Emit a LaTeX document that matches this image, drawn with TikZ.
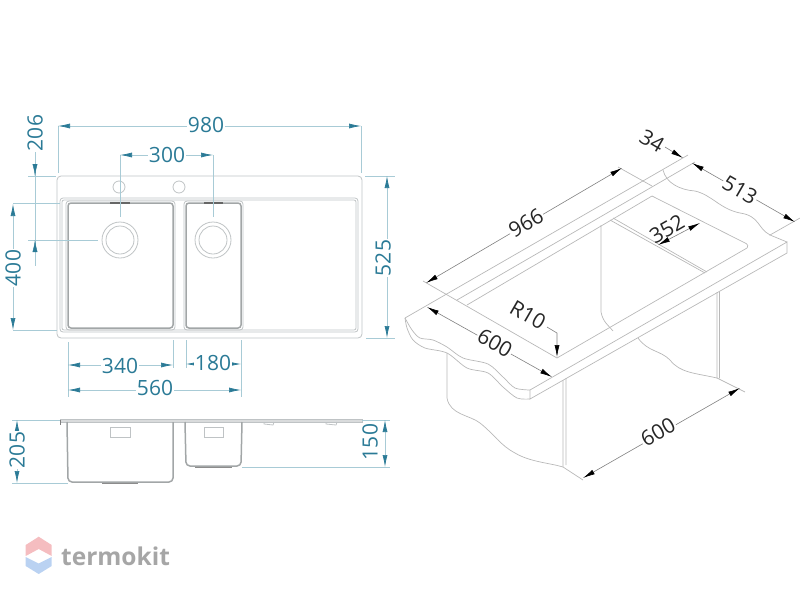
\documentclass[tikz,border=0pt]{standalone}
\usepackage{fontspec}
\setmainfont{Open Sans}
\usetikzlibrary{arrows.meta}
\definecolor{dimtext}{HTML}{2A7A96}
\definecolor{dimline}{HTML}{A8CBD6}
\definecolor{planline}{HTML}{BFC3C5}
\definecolor{isoline}{HTML}{B8B8B8}
\definecolor{logored}{HTML}{F5BDC0}
\definecolor{logoblue}{HTML}{BAD2F2}
\begin{document}
\begin{tikzpicture}[x=1pt,y=-1pt]
\tikzset{plan/.style={draw=planline,line width=0.8pt},
	planbold/.style={draw=planline!85!black,line width=1.5pt},
	iso/.style={draw=isoline,line width=0.7pt},
	dim/.style={draw=dimline,line width=0.7pt,{Latex[length=12pt,width=5pt,color=dimtext]}-{Latex[length=12pt,width=5pt,color=dimtext]}},
	ext/.style={draw=dimline,line width=0.6pt},
	label/.style={text=dimtext,font=\fontsize{21}{21}\selectfont,fill=white,inner sep=1pt},
	isodim/.style={draw=black!50,line width=0.6pt,{Latex[length=12pt,width=5pt,color=black]}-{Latex[length=12pt,width=5pt,color=black]}},
	isolabel/.style={text=black!85,font=\fontsize{21}{21}\selectfont,fill=white,inner sep=1pt}}
\useasboundingbox (0,0) rectangle (800,600);
\foreach \n/\x/\y in {wa/58/126,wb/361/126,ta/120/155,tb/213/155,ha/35/176,hb/35/240,
	fa/13/204,fb/13/330,da/387/176,db/387/338,ka/68/365,kb/173/365,ra/186/364,rb/241/364,
	na/68/390,nb/241/390,sa/17/420,sb/17/483,oa/385/420,ob/385/467}
	\coordinate (\n) at (\x,\y);
\foreach \n/\x/\y in {ia/426/283,ib/622/168,ja/427/307,jb/552/377,ma/583/478,mb/740/388,
	ca/683/158,cb/665/147,la/692/163,lb/795/222,qa/658/245,qb/700/223,va/557/357,vb/557/333,vc/547/327}
	\coordinate (\n) at (\x,\y);
% top view
\draw[plan,rounded corners=4pt] (57,176) rectangle (362,338);
\draw[plan,rounded corners=3pt] (60,198) rectangle (358,332);
\draw[plan,rounded corners=2pt] (62,200) rectangle (356,330);
\draw[planbold,rounded corners=3pt] (68,203) rectangle (173,328);
\draw[plan,rounded corners=3pt] (66,201) rectangle (175,330);
\draw[planbold,rounded corners=3pt] (186,203) rectangle (241,328);
\draw[plan,rounded corners=3pt] (184,201) rectangle (243,330);
\draw[draw=black!60,line width=1.2pt] (110,203) -- (130,203) (204,203) -- (223,203);
\foreach \cx in {120,213} {
	\draw[plan] (\cx,240) circle (18) (\cx,240) circle (14);
}
\draw[plan] (119,187) circle (6) (179,187) circle (6);
% side view
\draw[plan,fill=planline!60] (60,419.5) -- (362,419.5) -- (362,422) -- (60,422) -- cycle;
\draw[draw=black!50,line width=0.7pt] (60,420) -- (60,425);
\draw[planbold,rounded corners=4pt] (67,422) -- (68,482) -- (173,482) -- (173,422);
\draw[planbold,rounded corners=4pt] (185,422) -- (186,466) -- (241,466) -- (242,422);
\draw[draw=black!45,line width=1pt] (102,483.5) -- (138,483.5) (195,467.5) -- (232,467.5);
\draw[plan] (110,427) rectangle (130,437) (204,427) rectangle (223,437);
\draw[plan] (264,422) -- (264,424) -- (273,425) -- (274,422) (326,422) -- (326,424) -- (336,425) -- (337,422);
% dimensions of the top and side view
\draw[ext] (wa) -- ++(0,47) (wb) -- ++(0,47);
\draw[ext] (ta) -- ++(0,62) (tb) -- ++(0,62);
\draw[ext] (ha) ++(-7,0) -- ++(28,0) (hb) ++(-7,0) -- ++(70,0);
\draw[ext] (fa) ++(0,-1) -- ++(47,0) (fb) -- ++(44,0);
\draw[ext] (da) ++(-22,0) -- ++(30,0) (db) ++(-21,0) -- ++(29,0);
\draw[ext] (ka) ++(0,-23) -- ++(0,55) (kb) ++(0,-25) -- ++(0,28);
\draw[ext] (ra) ++(0,-24) -- ++(0,28) (rb) ++(0,-24) -- ++(0,57);
\draw[ext] (sa) ++(-5,0) -- ++(48,0) (sb) ++(-5,0) -- ++(56,0);
\draw[ext] (oa) ++(-23,0) -- ++(28,0) (ob) ++(-143,0) -- ++(148,0);
\draw[dim] (wa) -- (wb);
\draw[dim] (ta) -- (tb);
\draw[draw=dimline,line width=0.7pt] (35,143) -- (35,266);
\draw[-{Latex[length=12pt,width=5pt,color=dimtext]},draw=dimline] (35,160) -- (ha);
\draw[-{Latex[length=12pt,width=5pt,color=dimtext]},draw=dimline] (35,258) -- (hb);
\draw[dim] (fa) -- (fb);
\draw[dim] (da) -- (db);
\draw[dim] (ka) -- (kb);
\draw[dim] (ra) -- (rb);
\draw[dim] (na) -- (nb);
\draw[dim] (sa) -- (sb);
\draw[dim] (oa) -- (ob);
\node[label] (l980) at (206,125) {980};
\node[label] (l300) at (167,155) {300};
\node[label,rotate=90] (l206) at (35,133) {206};
\node[label,rotate=90] (l400) at (13,268) {400};
\node[label,rotate=90] (l525) at (383,258) {525};
\node[label] (l340) at (120,366) {340};
\node[label] (l180) at (213,363) {180};
\node[label] (l560) at (155,388) {560};
\node[label,rotate=90] (l205) at (17,450) {205};
\node[label,rotate=90] (l150) at (370,442) {150};
% iso view
\draw[iso] (405,318) -- (688,155) (457,300) -- (695,162) (467,305) -- (652,196);
\draw[iso] (423,281) -- (557,358) -- (747,248);
\draw[iso] (618,167) -- (652,186);
\draw[iso,rounded corners=3pt] (652,196) -- (749,245) -- (747,248);
\draw[iso] (610,220) -- (705,273) (613,218) -- (707,272);
\draw[iso] (530,390) -- (787,242) -- (787,253) -- (530,399) -- (530,390);
\draw[iso] (787,242) -- (770,235) -- (800,218);
\draw[iso] plot[smooth] coordinates {(405,318) (412,330) (420,338) (433,340) (447,347) (463,358) (488,364) (503,377) (515,388) (530,390)};
\draw[iso] plot[smooth] coordinates {(405,318) (407,328) (413,340) (425,348) (447,353) (467,368) (488,373) (503,387) (517,398) (530,399)};
\draw[iso] (663,170) .. controls (666,183) and (680,190) .. (695,191) .. controls (712,195) and (720,209) .. (740,213) .. controls (760,216) and (757,228) .. (770,235);
\draw[iso] (447,353) -- (447,398) .. controls (450,415) and (470,415) .. (480,423) .. controls (495,435) and (500,445) .. (515,453) .. controls (530,462) and (550,463) .. (563,467);
\draw[iso] (563,380) -- (563,467) -- (583,480) (566,378) -- (566,465);
\draw[iso] (717,292) -- (717,378) -- (745,392) (719.5,292) -- (719.5,378);
\draw[iso] (638,338) .. controls (648,352) and (660,350) .. (670,360) .. controls (680,373) and (695,373) .. (717,378);
\draw[iso] (601,225) -- (601,312) .. controls (603,322) and (608,325) .. (613,331);
\draw[isodim] (ia) -- (ib);
\draw[isodim] (ja) -- (jb);
\draw[isodim] (ma) -- (mb);
\draw[isodim] (la) -- (lb);
\draw[isodim] (qa) -- (qb);
\draw[draw=black!50,line width=0.6pt,-{Latex[length=12pt,width=5pt,color=black]}] (cb) -- (ca);
\draw[draw=black!50,line width=0.6pt,-{Latex[length=12pt,width=5pt,color=black]}] (vc) -- (vb) -- (va);
\node[isolabel,rotate=30] (l966) at (526,223) {966};
\node[isolabel,rotate=-30,fill=none] (l34) at (652,141) {34};
\node[isolabel,rotate=-30] (l513) at (740,190) {513};
\node[isolabel,rotate=30,fill=none] (l352) at (667,229) {352};
\node[isolabel,rotate=-30,fill=none] (l10) at (528,315) {R10};
\node[isolabel,rotate=-30] (l600a) at (495,343) {600};
\node[isolabel,rotate=30] (l600b) at (658,432) {600};
% logo
\fill[logored] (38.7,536.7) -- (51.7,545) -- (51.7,556) -- (38.7,549) -- (25.7,556) -- (25.7,545) -- cycle;
\fill[logoblue] (38.7,574) -- (51.7,566) -- (51.7,557) -- (38.7,563.5) -- (25.7,557) -- (25.7,566) -- cycle;
\node[text=black!35,font=\fontsize{24.5}{24.5}\selectfont\bfseries,anchor=west,inner sep=0pt] (logo) at (61,556) {termokit};
\end{tikzpicture}
\end{document}
